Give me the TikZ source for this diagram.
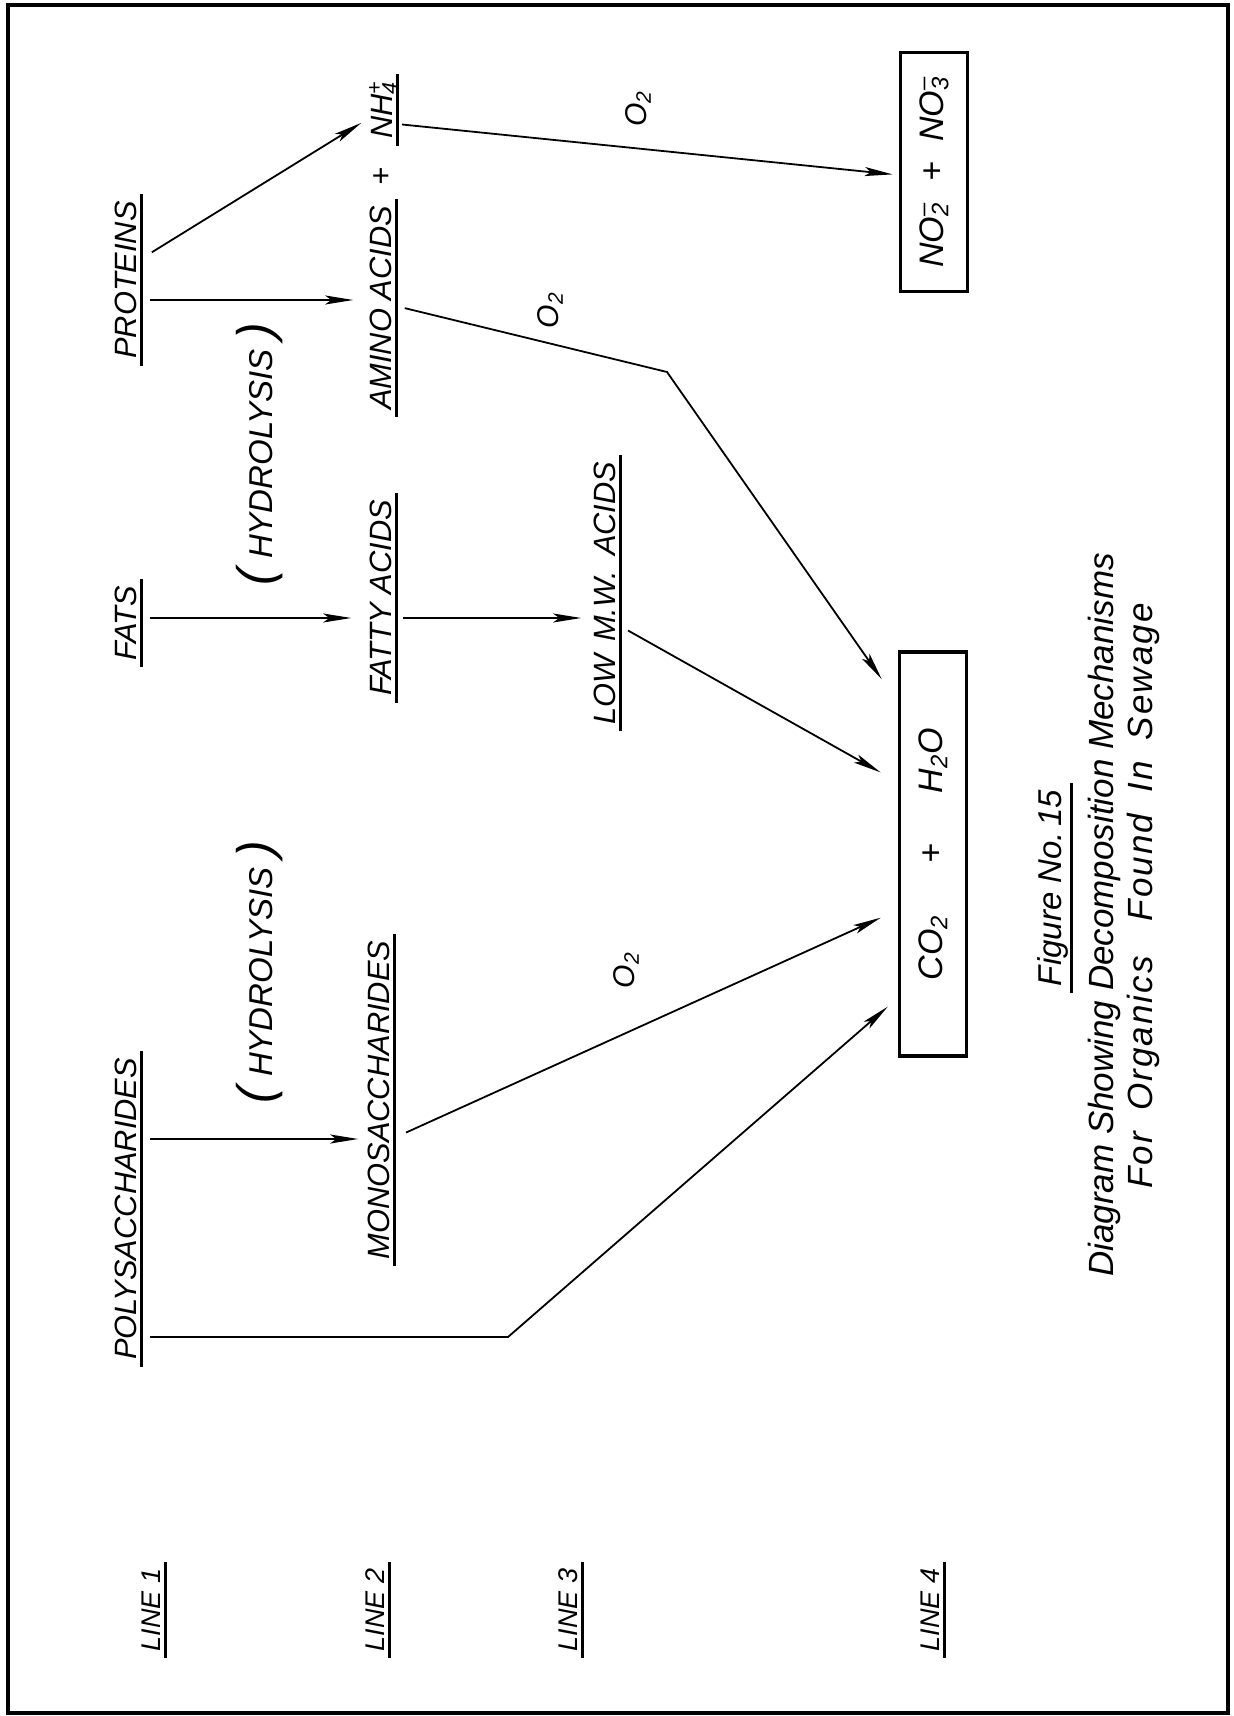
\documentclass[tikz,border=0pt]{standalone}
\usepackage{fontspec}
\setmainfont{Liberation Sans}
\usetikzlibrary{arrows.meta}

% charge over index, stacked
\newcommand{\chg}[2]{\rlap{\textsuperscript{#1}}\textsubscript{#2}}
\newcommand{\bigparen}[1]{{\fontsize{25}{25}\selectfont #1}}

\begin{document}
\begin{tikzpicture}[
    x=0.5pt, y=-0.5pt,
    font=\itshape\fontsize{15.4}{18}\selectfont,
    item/.style={rotate=90, anchor=south, inner xsep=3pt, inner ysep=0pt, text height=11pt, text depth=2pt},
    rowlbl/.style={item, text height=9.7pt, font=\itshape\fontsize{13.5}{16}\selectfont},
    note/.style={rotate=90, anchor=base, inner sep=0pt},
    gas/.style={rotate=90, font=\itshape\fontsize{15}{17}\selectfont},
    result/.style={rotate=90, draw, line width=1.8pt, inner sep=0pt, minimum height=33.5pt,
                   font=\itshape\fontsize{17}{20}\selectfont},
    uline/.style={line width=1.5pt},
    arr/.style={-{Stealth[length=14pt, width=4.5pt, inset=3pt]}},
    line width=0.9pt
]
    \useasboundingbox (0,0) rectangle (1234,1716);
    \draw[line width=2pt] (8,5) rectangle (1228,1713);

    % Line 1
    \node[item] (prot) at (141, 280)  {PROTEINS};
    \node[item] (fats) at (141, 623)  {FATS};
    \node[item] (poly) at (141, 1209) {POLYSACCHARIDES};

    % Line 2
    \node[item] (amino) at (396, 308)  {AMINO ACIDS};
    \node[rotate=90] (plus) at (383, 177) {+};
    \node[item] (nh)    at (397, 110)  {NH\chg{+}{4}};
    \node[item] (fatty) at (396, 598)  {FATTY ACIDS};
    \node[item] (mono)  at (394, 1100) {MONOSACCHARIDES};

    % Line 3
    \node[item] (low) at (620, 593) {LOW\hspace{0.4em}M.W.\hspace{0.5em}ACIDS};

    % Line 4
    \node[result, minimum width=119.5pt] (nox) at (934, 172)
        {NO\chg{--}{2}\hspace{0.6em}+\hspace{0.6em}NO\chg{--}{3}};
    \node[result, minimum width=202pt] (co) at (933, 854)
        {CO\textsubscript{2}\hspace{1.5em}+\hspace{1.5em}H\textsubscript{2}O};

    % Row labels
    \foreach \n/\x in {1/165, 2/389, 3/582, 4/944}
        \node[rowlbl] (line\n) at (\x, 1610) {LINE \n};

    % Reactions
    \node[note, font=\itshape\fontsize{16.5}{18}\selectfont] (hyd1) at (272, 454)
        {\bigparen{(}\hspace{0.3em}HYDROLYSIS\hspace{0.3em}\bigparen{)}};
    \node[note, font=\itshape\fontsize{16.5}{18}\selectfont] (hyd2) at (272, 972)
        {\bigparen{(}\hspace{0.3em}HYDROLYSIS\hspace{0.3em}\bigparen{)}};
    \node[gas] (o2a) at (638, 109) {O\textsubscript{2}};
    \node[gas] (o2b) at (550, 310) {O\textsubscript{2}};
    \node[gas] (o2c) at (626, 970) {O\textsubscript{2}};

    % Caption
    \node[item, text depth=4.5pt, font=\itshape\fontsize{16.5}{20}\selectfont] (fig) at (1071, 888) {Figure\ No.\,15};
    \node[note, font=\itshape\fontsize{17.5}{20}\selectfont] (cap1) at (1113, 915) {Diagram Showing Decomposition Mechanisms};
    \node[note, font=\itshape\fontsize{17.5}{20}\selectfont\addfontfeature{LetterSpace=6}] (cap2) at (1152, 896)
        {For\hspace{0.6em}Organics\hspace{1em}Found\hspace{0.6em}In\hspace{0.6em}Sewage};

    % Underlines
    \foreach \n in {prot, fats, poly, amino, nh, fatty, mono, low, line1, line2, line3, line4, fig}
        \draw[uline] (\n.south west) -- (\n.south east);

    % Bends
    \coordinate (kink1) at (667, 372);
    \coordinate (kink2) at (508, 1337);

    % Arrows
    \draw[arr, shorten <=4.5pt, shorten >=7.5pt] (prot.south |- 0,300) -- (amino.north |- 0,300);
    \draw[arr, shorten <=6.4pt, shorten >=4.7pt] (prot.south |- 0,259) -- (nh.north |- 0,118);
    \draw[arr, shorten <=2.5pt, shorten >=3pt]   (nh.south |- 0,124)   -- (nox.north |- 0,175);
    \draw[arr, shorten <=4.5pt, shorten >=13.9pt] (amino.south |- 0,306) -- (kink1) -- (co.north |- 0,702);
    \draw[arr, shorten <=4.5pt, shorten >=8.5pt] (fats.south |- 0,618)  -- (fatty.north |- 0,618);
    \draw[arr, shorten <=3.5pt, shorten >=5.5pt] (fatty.south |- 0,618) -- (low.north |- 0,618);
    \draw[arr, shorten <=4.6pt, shorten >=9.8pt] (low.south |- 0,626)   -- (co.north |- 0,782);
    \draw[arr, shorten <=4.5pt, shorten >=4pt]   (poly.south |- 0,1139) -- (mono.north |- 0,1139);
    \draw[arr, shorten <=6.6pt, shorten >=9.3pt] (mono.south |- 0,1138) -- (co.north |- 0,910);
    \draw[arr, shorten <=4.5pt, shorten >=6.6pt] (poly.south |- 0,1337) -- (kink2) -- (co.north |- 0,998);

\end{tikzpicture}
\end{document}
